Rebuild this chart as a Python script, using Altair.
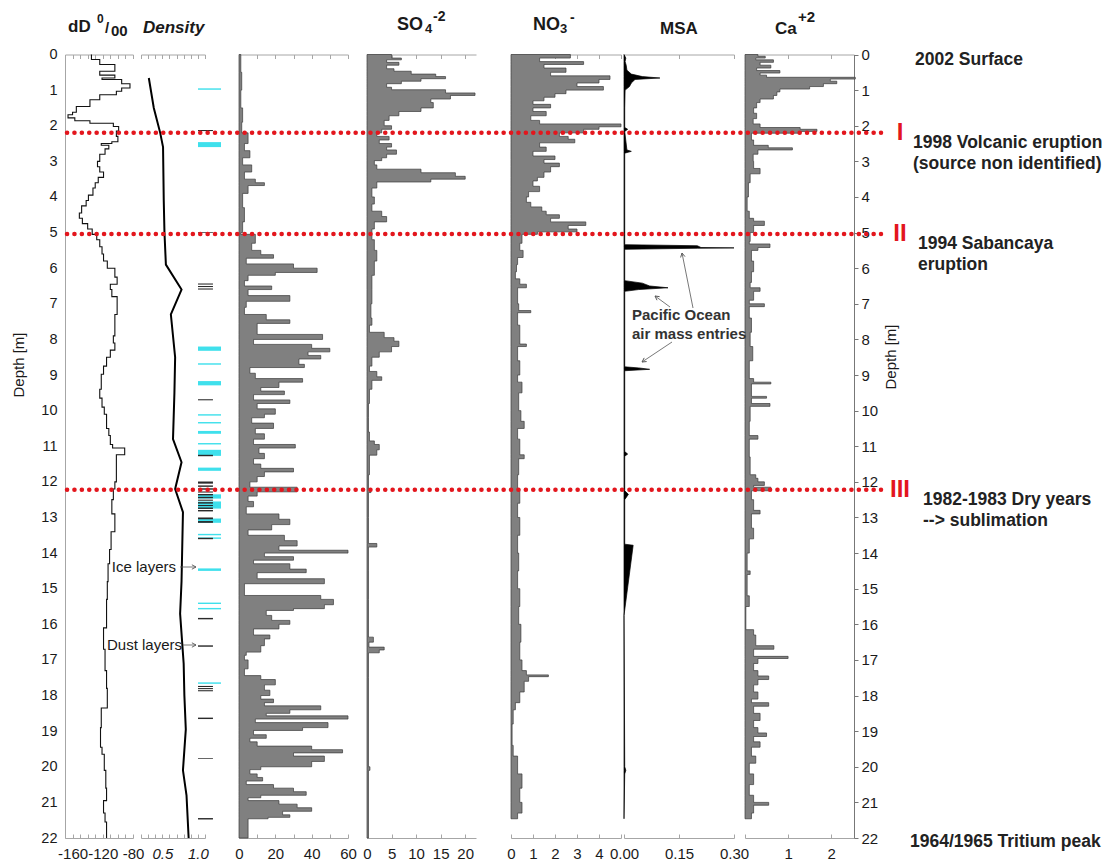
import math
import altair as alt
import pandas as pd

# ----------------------------------------------------------------- data
DEPTH_TICKS = list(range(0, 23))

# (depth m, dD permil) - step profile
DD_PROFILE = [
    (0.00, -135), (0.14, -124), (0.28, -104), (0.47, -124), (0.58, -104), (0.66, -121),
    (0.70, -95), (0.82, -84), (0.94, -95), (1.03, -102), (1.13, -124), (1.27, -137),
    (1.46, -155), (1.62, -160), (1.69, -166), (1.78, -157), (1.86, -137), (1.93, -106),
    (2.02, -99), (2.15, -102), (2.30, -100), (2.45, -108), (2.50, -122), (2.55, -112),
    (2.65, -117), (2.80, -124), (3.00, -127), (3.15, -124), (3.30, -119), (3.45, -126),
    (3.60, -130), (3.75, -133), (3.95, -139), (4.10, -142), (4.25, -148), (4.45, -151),
    (4.60, -147), (4.75, -140), (4.90, -134), (5.05, -128), (5.20, -124), (5.40, -121),
    (5.60, -119), (5.80, -114), (6.00, -104), (6.25, -101), (6.45, -110), (6.60, -108),
    (6.80, -101), (7.30, -104), (7.90, -106), (8.10, -104), (8.30, -110), (8.50, -115),
    (8.75, -119), (8.98, -122), (9.40, -124), (9.65, -121), (9.90, -118), (10.10, -115),
    (10.50, -112), (10.70, -110), (10.95, -107), (11.05, -91), (11.24, -102), (12.00, -104),
    (12.20, -106), (12.50, -108), (12.90, -104), (13.40, -109), (13.90, -111), (14.30, -113),
    (14.80, -114), (15.30, -115), (16.10, -119), (16.70, -117), (17.30, -115), (17.80, -114),
    (18.35, -122), (18.90, -123), (19.45, -121), (19.65, -118), (20.10, -116), (20.60, -115),
    (20.95, -119), (21.30, -117), (21.55, -115), (22.00, -115),
]

# (depth m, density)
DENSITY_PROFILE = [
    (0.66, 0.31), (1.5, 0.38), (2.2, 0.47), (2.6, 0.51), (4.1, 0.52), (5.0, 0.53),
    (5.9, 0.55), (6.6, 0.77), (7.3, 0.62), (8.5, 0.68), (9.5, 0.67), (10.8, 0.65),
    (11.45, 0.77), (12.2, 0.68), (12.85, 0.79), (14.8, 0.77), (15.7, 0.75), (17.1, 0.80),
    (18.0, 0.81), (18.95, 0.83), (20.1, 0.79), (20.8, 0.84), (22.0, 0.87),
]

# unlabeled 0-60 column (step profile)
P4_PROFILE = [
    (0.0, 1), (0.5, 1.5), (1.0, 1), (1.5, 2), (1.9, 1.5), (2.2, 5), (2.5, 3), (2.7, 6),
    (2.9, 2), (3.1, 7), (3.3, 3), (3.5, 9), (3.6, 14), (3.68, 5), (3.9, 2), (4.3, 3),
    (4.7, 2), (5.0, 1), (5.05, 9), (5.3, 7), (5.5, 12), (5.62, 19), (5.72, 4), (5.88, 30),
    (6.0, 43), (6.12, 20), (6.2, 5), (6.35, 3), (6.5, 18), (6.6, 5), (6.77, 28), (6.93, 4),
    (7.1, 3), (7.3, 15), (7.45, 28), (7.55, 10), (7.76, 10), (7.86, 46), (8.0, 8),
    (8.14, 40), (8.25, 50), (8.35, 38), (8.45, 45), (8.55, 33), (8.7, 36), (8.79, 6),
    (8.95, 9), (9.1, 35), (9.2, 22), (9.35, 12), (9.45, 25), (9.55, 8), (9.7, 28),
    (9.8, 10), (9.95, 20), (10.1, 14), (10.2, 7), (10.35, 19), (10.5, 9), (10.65, 14),
    (10.8, 8), (10.95, 31), (11.05, 11), (11.2, 14), (11.35, 8), (11.5, 12), (11.62, 30),
    (11.72, 14), (11.85, 10), (12.0, 6), (12.15, 32), (12.28, 10), (12.4, 5), (12.55, 8),
    (12.7, 4), (12.9, 22), (13.05, 28), (13.2, 18), (13.35, 5), (13.5, 25), (13.65, 32),
    (13.8, 22), (13.92, 60), (14.0, 14), (14.1, 30), (14.2, 8), (14.3, 28), (14.45, 37),
    (14.55, 10), (14.72, 47), (14.86, 3), (15.19, 45), (15.3, 52), (15.45, 47),
    (15.56, 30), (15.61, 15), (15.75, 18), (15.89, 28), (16.0, 22), (16.13, 8),
    (16.3, 17), (16.41, 14), (16.6, 12), (16.78, 4), (16.87, 3), (17.0, 5), (17.25, 3),
    (17.44, 12), (17.55, 20), (17.7, 14), (17.85, 17), (18.0, 12), (18.1, 19), (18.2, 14),
    (18.29, 45), (18.4, 28), (18.5, 15), (18.57, 60), (18.66, 9), (18.76, 49), (18.9, 35),
    (18.98, 8), (19.1, 15), (19.2, 6), (19.3, 10), (19.42, 40), (19.52, 57), (19.61, 30),
    (19.7, 47), (19.85, 40), (20.0, 12), (20.08, 6), (20.2, 10), (20.3, 13), (20.4, 4),
    (20.5, 19), (20.6, 30), (20.7, 37), (20.8, 12), (20.87, 5), (20.95, 22), (21.05, 32),
    (21.15, 40), (21.25, 24), (21.35, 28), (21.42, 16), (21.46, 5), (22.0, 0),
]

SO4_PROFILE = [
    (0.0, 5), (0.1, 7), (0.15, 4), (0.22, 6.5), (0.3, 4), (0.4, 5.5), (0.47, 9), (0.55, 14),
    (0.62, 16), (0.68, 11), (0.75, 7), (0.82, 4), (0.92, 5), (0.99, 16), (1.08, 22),
    (1.15, 17), (1.25, 13), (1.35, 13.5), (1.5, 11), (1.6, 6.5), (1.72, 4.5), (1.85, 3.5),
    (2.0, 5), (2.1, 3), (2.2, 2), (2.3, 4.5), (2.4, 2.5), (2.5, 5), (2.6, 4), (2.68, 6),
    (2.8, 4), (2.9, 3), (2.98, 1.5), (3.1, 2), (3.22, 11), (3.32, 18), (3.42, 20),
    (3.5, 13), (3.58, 2), (3.75, 1), (4.0, 1.5), (4.2, 1), (4.4, 3), (4.55, 4), (4.7, 1.5),
    (4.9, 1), (5.2, 1.5), (5.5, 2), (5.8, 1.5), (6.2, 1), (6.6, 1), (7.0, 0.8), (7.4, 1),
    (7.6, 0.5), (7.8, 3.5), (7.95, 5.5), (8.05, 6.5), (8.2, 5), (8.35, 2.5), (8.5, 1),
    (8.75, 0.5), (8.9, 2), (9.05, 3), (9.15, 1), (9.4, 0.5), (9.8, 0.3), (10.2, 0.3),
    (10.6, 0.5), (10.85, 1.5), (10.95, 2.5), (11.1, 2), (11.25, 0.5), (11.8, 0.3),
    (12.2, 0.8), (12.3, 0.3), (13.0, 0.3), (13.73, 2), (13.83, 0.3), (14.5, 0.3),
    (15.3, 0.3), (16.36, 1.3), (16.5, 0.4), (16.64, 3.5), (16.72, 2.5), (16.8, 0.3),
    (17.5, 0.3), (20.0, 0.6), (20.1, 0.3), (22.0, 0),
]

NO3_PROFILE = [
    (0.0, 2.7), (0.1, 1.3), (0.2, 3.3), (0.28, 1.5), (0.38, 2.5), (0.5, 1.8), (0.6, 4.5),
    (0.7, 4.0), (0.8, 3.0), (0.9, 4.2), (1.0, 2.5), (1.1, 2.0), (1.2, 1.5), (1.3, 1.0),
    (1.4, 1.8), (1.5, 1.0), (1.6, 1.6), (1.72, 0.9), (1.85, 1.3), (1.95, 5.0), (2.03, 4.0),
    (2.1, 3.3), (2.2, 2.2), (2.3, 2.6), (2.38, 2.9), (2.48, 1.3), (2.6, 1.6), (2.72, 1.0),
    (2.85, 2.0), (2.95, 1.5), (3.05, 2.2), (3.15, 1.8), (3.3, 1.5), (3.45, 1.2),
    (3.55, 1.0), (3.7, 1.3), (3.85, 0.8), (4.0, 0.7), (4.15, 0.9), (4.28, 1.4), (4.4, 1.6),
    (4.5, 2.2), (4.6, 1.8), (4.7, 3.4), (4.8, 2.6), (4.9, 3.0), (4.98, 1.2), (5.05, 0.5),
    (5.3, 0.4), (5.5, 0.55), (5.7, 0.3), (5.9, 0.25), (6.1, 0.2), (6.3, 0.4), (6.45, 0.7),
    (6.55, 0.3), (7.0, 0.35), (7.19, 0.9), (7.25, 0.3), (7.6, 0.4), (8.13, 0.7), (8.2, 0.3),
    (8.6, 0.4), (9.0, 0.3), (9.2, 0.5), (9.5, 0.35), (10.0, 0.45), (10.3, 0.6), (10.5, 0.3),
    (10.8, 0.4), (11.24, 0.6), (11.35, 0.35), (11.8, 0.3), (12.2, 0.4), (12.6, 0.3),
    (13.0, 0.4), (13.5, 0.3), (14.0, 0.35), (14.5, 0.3), (15.0, 0.4), (15.5, 0.35),
    (16.0, 0.45), (16.5, 0.4), (17.0, 0.5), (17.3, 0.7), (17.42, 1.7), (17.47, 0.8),
    (17.6, 0.6), (17.9, 0.4), (18.2, 0.2), (18.4, 0.1), (18.8, 0.05), (19.4, 0.1),
    (19.7, 0.3), (20.2, 0.5), (20.6, 0.4), (21.0, 0.5), (21.3, 0.3), (21.46, 0),
]

MSA_PROFILE = [
    (0.0, 0), (0.1, 0.005), (0.2, 0.003), (0.3, 0.006), (0.44, 0.008), (0.55, 0.02),
    (0.62, 0.05), (0.66, 0.098), (0.7, 0.03), (0.8, 0.02), (0.9, 0.015), (1.0, 0.003),
    (1.5, 0.002), (2.05, 0.002), (2.1, 0.01), (2.16, 0.002), (2.68, 0.008), (2.72, 0.02),
    (2.77, 0.002), (5.34, 0.002), (5.37, 0.2), (5.42, 0.21), (5.43, 0.3), (5.44, 0.2),
    (5.47, 0.002), (6.35, 0.002),
    (6.42, 0.05), (6.5, 0.07), (6.55, 0.12), (6.6, 0.04), (6.65, 0.002), (8.77, 0.002),
    (8.8, 0.04), (8.84, 0.07), (8.88, 0.002), (11.15, 0.002), (11.22, 0.01), (11.28, 0.002),
    (12.25, 0.002), (12.35, 0.012), (12.5, 0.002), (13.75, 0.002), (13.78, 0.025),
    (15.75, 0.0), (20.0, 0.002), (20.1, 0.005), (20.2, 0.002), (21.46, 0.0),
]

CA_PROFILE = [
    (0.0, 0.3), (0.05, 0.47), (0.1, 0.25), (0.15, 0.66), (0.22, 0.35), (0.3, 0.6),
    (0.38, 0.27), (0.45, 0.81), (0.52, 0.35), (0.58, 0.5), (0.64, 2.56), (0.69, 1.98),
    (0.75, 2.13), (0.82, 1.82), (0.9, 1.5), (0.97, 0.81), (1.05, 0.74), (1.15, 0.66),
    (1.25, 0.35), (1.35, 0.27), (1.5, 0.2), (1.65, 0.27), (1.8, 0.19), (1.95, 0.35),
    (2.05, 1.28), (2.1, 1.67), (2.16, 1.3), (2.21, 0.15), (2.4, 0.2), (2.55, 0.54),
    (2.62, 1.1), (2.68, 0.3), (2.8, 0.19), (3.0, 0.2), (3.2, 0.35), (3.35, 0.12),
    (3.6, 0.08), (4.0, 0.05), (4.4, 0.1), (4.6, 0.2), (4.68, 0.45), (4.8, 0.2), (5.0, 0.12),
    (5.25, 0.1), (5.32, 0.58), (5.42, 0.3), (5.5, 0.15), (5.8, 0.2), (6.1, 0.15),
    (6.4, 0.12), (6.55, 0.35), (6.65, 0.2), (6.9, 0.1), (7.0, 0.45), (7.08, 0.1),
    (7.4, 0.15), (7.8, 0.12), (8.2, 0.18), (8.6, 0.1), (9.1, 0.2), (9.2, 0.6), (9.25, 0.15),
    (9.6, 0.5), (9.65, 0.15), (9.8, 0.58), (9.88, 0.12), (10.3, 0.1), (10.7, 0.3),
    (10.8, 0.1), (11.3, 0.12), (11.8, 0.25), (11.9, 0.3), (12.0, 0.45), (12.1, 0.2),
    (12.15, 0.6), (12.25, 0.15), (12.5, 0.2), (12.8, 0.35), (12.9, 0.15), (13.3, 0.2),
    (13.6, 0.1), (14.0, 0.05), (14.5, 0.12), (14.6, 0.05), (15.2, 0.1), (15.5, 0.02),
    (16.15, 0.2), (16.3, 0.25), (16.6, 0.67), (16.7, 0.2), (16.9, 1.0), (16.96, 0.3),
    (17.1, 0.2), (17.3, 0.3), (17.45, 0.55), (17.55, 0.3), (17.7, 0.2), (17.9, 0.3),
    (18.1, 0.15), (18.2, 0.55), (18.3, 0.2), (18.5, 0.35), (18.7, 0.2), (18.9, 0.3),
    (19.05, 0.5), (19.15, 0.2), (19.3, 0.35), (19.45, 0.15), (19.7, 0.25), (19.9, 0.1),
    (20.2, 0.2), (20.5, 0.1), (20.8, 0.2), (21.0, 0.55), (21.08, 0.2), (21.3, 0.15),
    (21.46, 0),
]

# (top depth, bottom depth)
ICE_LAYERS = [
    (0.95, 0.99), (2.46, 2.6), (8.2, 8.32), (8.67, 8.71), (9.17, 9.29), (10.1, 10.14),
    (10.32, 10.36), (10.57, 10.65), (10.91, 10.95), (11.1, 11.27), (11.6, 11.69),
    (12.35, 12.47), (12.55, 12.75), (13.03, 13.15), (13.46, 13.5), (13.56, 13.6),
    (14.43, 14.5), (15.39, 15.43), (15.54, 15.58), (17.63, 17.67),
]
DUST_LAYERS = [
    (2.12, 2.15), (4.99, 5.01), (6.43, 6.46), (6.5, 6.53), (6.57, 6.6), (9.68, 9.71),
    (11.24, 11.28), (11.99, 12.05), (12.1, 12.14), (12.18, 12.22), (12.27, 12.3),
    (12.34, 12.38), (12.42, 12.46), (12.5, 12.53), (12.57, 12.61), (12.65, 12.68),
    (12.72, 12.76), (12.79, 12.83), (13.0, 13.05), (13.1, 13.15), (13.57, 13.61),
    (15.82, 15.86), (16.59, 16.63), (17.73, 17.76), (17.79, 17.82), (17.85, 17.88),
    (18.62, 18.66), (19.76, 19.78), (21.44, 21.48),
]

EVENT_DEPTH = [2.2, 5.04, 12.22]
EVENT_NUMERAL = ["I", "II", "III"]
EVENT_LABEL = [
    "1998 Volcanic eruption\n(source non identified)",
    "1994 Sabancaya\neruption",
    "1982-1983 Dry years\n--> sublimation",
]
SURFACE_LABEL = "2002 Surface"
TRITIUM_LABEL = "1964/1965 Tritium peak"

# ------------------------------------------------------------- layout
FONT = "Liberation Sans"
INK = "#1a1a1a"
AXIS_GRAY = "#a6a6a6"
RED = "#e3161d"
FILL_GRAY = "#808080"
W, H = 1096, 830
Y_TOP = 46.5

Y_SCALE = alt.Scale(domain=[0, 22], range=[Y_TOP, H], nice=False, zero=False)

PANELS = {
    "dD": dict(domain=[-170, -80], rng=[57, 125], labels=[-160, -120, -80],
               ticks=list(range(-170, -79, 10)), expr="'' + datum.value"),
    "dens": dict(domain=[0.2, 1.1], rng=[133, 197], labels=[0.5, 1.0],
                 ticks=[round(0.2 + 0.1 * i, 1) for i in range(10)], fmt=".1f", italic=True),
    "p4": dict(domain=[0, 60], rng=[231, 340], labels=[0, 20, 40, 60],
               ticks=list(range(0, 61, 10))),
    "so4": dict(domain=[0, 22.2], rng=[359, 468], labels=[0, 5, 10, 15, 20],
                ticks=[0, 5, 10, 15, 20]),
    "no3": dict(domain=[0, 5], rng=[503, 613], labels=[0, 1, 2, 3, 4],
                ticks=[0, 1, 2, 3, 4, 5]),
    "msa": dict(domain=[0, 0.3], rng=[616, 726], labels=[0, 0.15, 0.3],
                ticks=[0, 0.15, 0.3], fmt=".2f"),
    "ca": dict(domain=[0, 2.53], rng=[737, 846], labels=[1, 2], ticks=[0, 1, 2]),
}
LAYER_SCALE = alt.Scale(domain=[0, 1], range=[190, 213], nice=False, zero=False)


def xscale(key):
    p = PANELS[key]
    return alt.Scale(domain=p["domain"], range=p["rng"], nice=False, zero=False)


def bottom_axis(key):
    p = PANELS[key]
    kw = dict(orient="bottom", values=p["labels"], title=None, grid=False, ticks=False,
              domain=True, domainColor=AXIS_GRAY, labelFont=FONT, labelFontSize=15,
              labelColor=INK, labelPadding=8, labelFlush=False, labelOverlap=False,
              labelBound=False)
    if "fmt" in p:
        kw["format"] = p["fmt"]
    if "expr" in p:
        kw["labelExpr"] = p["expr"]
    if p.get("italic"):
        kw["labelFontStyle"] = "italic"
    return alt.Axis(**kw)


def frame_layers(key):
    p = PANELS[key]
    dummy = pd.DataFrame({"v": [p["domain"][0]]})
    top = alt.Chart(dummy).mark_point(opacity=0).encode(
        x=alt.X("v:Q", scale=xscale(key), axis=alt.Axis(
            orient="bottom", offset=-(H - Y_TOP), values=p["ticks"], labels=False,
            ticks=True, tickSize=4, tickColor=AXIS_GRAY, domainColor=AXIS_GRAY,
            title=None, grid=False)))
    bot = alt.Chart(dummy).mark_point(opacity=0).encode(
        x=alt.X("v:Q", scale=xscale(key), axis=alt.Axis(
            orient="top", offset=-H, values=p["ticks"], labels=False, ticks=True,
            tickSize=4, tickColor=AXIS_GRAY, domain=False, title=None, grid=False)))
    return [top, bot]


def profile_df(profile):
    return pd.DataFrame(profile, columns=["d", "v"])


def area_layer(key, profile, fill, stroke, interp, yaxis=None):
    return alt.Chart(profile_df(profile)).mark_area(
        orient="horizontal", interpolate=interp, fill=fill, stroke=stroke,
        strokeWidth=0.7, fillOpacity=1).encode(
        x=alt.X("v:Q", scale=xscale(key), axis=bottom_axis(key), stack=None),
        y=alt.Y("d:Q", scale=Y_SCALE, axis=yaxis))


def text_layer(txt, x, y, size, weight="bold", style="normal", align="left",
               color=INK, angle=0):
    return alt.Chart(pd.DataFrame({"t": [txt]})).mark_text(
        font=FONT, fontSize=size, fontWeight=weight, fontStyle=style, align=align,
        baseline="middle", color=color, angle=angle).encode(
        x=alt.value(x), y=alt.value(y), text="t:N")


left_axis = alt.Axis(orient="left", offset=-57, values=DEPTH_TICKS, ticks=False,
                     domainColor=AXIS_GRAY, labelFont=FONT, labelFontSize=14.5,
                     labelColor=INK, labelPadding=8, title=None, grid=False,
                     labelOverlap=False, labelFlush=False, labelBound=False)
right_axis = alt.Axis(orient="right", offset=-(W - 846), values=DEPTH_TICKS, ticks=True,
                      tickSize=4, tickColor="#777777", domainColor="#777777",
                      labelFont=FONT, labelFontSize=15, labelColor=INK, labelPadding=3,
                      title=None, grid=False, labelOverlap=False, labelFlush=False,
                      labelBound=False)

layers = []

# dD
layers.append(alt.Chart(profile_df(DD_PROFILE)).mark_line(
    interpolate="step-before", color="#111111", strokeWidth=1.1).encode(
    x=alt.X("v:Q", scale=xscale("dD"), axis=bottom_axis("dD")),
    y=alt.Y("d:Q", scale=Y_SCALE, axis=left_axis),
    order=alt.Order("d:Q")))
layers += frame_layers("dD")

# density
layers.append(alt.Chart(profile_df(DENSITY_PROFILE)).mark_line(
    color="#000000", strokeWidth=2).encode(
    x=alt.X("v:Q", scale=xscale("dens"), axis=bottom_axis("dens")),
    y=alt.Y("d:Q", scale=Y_SCALE, axis=None),
    order=alt.Order("d:Q")))
layers += frame_layers("dens")

# ice / dust layers
ice_df = pd.DataFrame(ICE_LAYERS, columns=["top", "bot"])
dust_df = pd.DataFrame(DUST_LAYERS, columns=["top", "bot"])
layers.append(alt.Chart(ice_df).mark_rect(color="#3fe0ec").encode(
    x=alt.X(datum=0, type="quantitative", scale=LAYER_SCALE, axis=None),
    x2=alt.X2(datum=1),
    y=alt.Y("top:Q", scale=Y_SCALE, axis=None), y2="bot:Q"))
layers.append(alt.Chart(dust_df).mark_rect(color="#2a2a2a").encode(
    x=alt.X(datum=0, type="quantitative", scale=LAYER_SCALE, axis=None),
    x2=alt.X2(datum=0.65),
    y=alt.Y("top:Q", scale=Y_SCALE, axis=None), y2="bot:Q"))

# chemistry columns
layers.append(area_layer("p4", P4_PROFILE, FILL_GRAY, "#3a3a3a", "step-before"))
layers += frame_layers("p4")
layers.append(area_layer("so4", SO4_PROFILE, FILL_GRAY, "#3a3a3a", "step-before"))
layers += frame_layers("so4")
layers.append(area_layer("no3", NO3_PROFILE, FILL_GRAY, "#3a3a3a", "step-before"))
layers += frame_layers("no3")
layers.append(area_layer("msa", MSA_PROFILE, "#000000", "#000000", "linear"))
layers += frame_layers("msa")
layers.append(area_layer("ca", CA_PROFILE, FILL_GRAY, "#3a3a3a", "step-before",
                         yaxis=right_axis))
layers += frame_layers("ca")

# red dotted event lines + numerals + labels
ev_df = pd.DataFrame({"d": EVENT_DEPTH, "num": EVENT_NUMERAL, "txt": EVENT_LABEL})
layers.append(alt.Chart(ev_df).mark_rule(
    color=RED, strokeWidth=4.5, strokeDash=[0.1, 7.3], strokeCap="round").encode(
    y=alt.Y("d:Q", scale=Y_SCALE, axis=None), x=alt.value(59), x2=alt.value(873)))
layers.append(alt.Chart(ev_df).mark_text(
    font=FONT, fontSize=24, fontWeight="bold", color=RED, align="center",
    baseline="middle").encode(
    y=alt.Y("d:Q", scale=Y_SCALE, axis=None), x=alt.value(892), text="num:N"))
EVENT_TEXT_X = [905, 910, 915]
for i in range(len(EVENT_DEPTH)):
    layers.append(alt.Chart(ev_df.iloc[[i]]).mark_text(
        font=FONT, fontSize=17.5, fontWeight="bold", color="#222222", align="left",
        baseline="middle", lineBreak="\n", lineHeight=21, dy=10.5).encode(
        y=alt.Y("d:Q", scale=Y_SCALE, axis=None), x=alt.value(EVENT_TEXT_X[i]),
        text="txt:N"))

end_df = pd.DataFrame({"d": [0.0], "t": [SURFACE_LABEL]})
layers.append(alt.Chart(end_df).mark_text(
    font=FONT, fontSize=17.5, fontWeight="bold", color="#222222", align="left",
    baseline="middle", dy=5).encode(
    y=alt.Y("d:Q", scale=Y_SCALE, axis=None), x=alt.value(907), text="t:N"))
trit_df = pd.DataFrame({"d": [22.0], "t": [TRITIUM_LABEL]})
layers.append(alt.Chart(trit_df).mark_text(
    font=FONT, fontSize=17.5, fontWeight="bold", color="#222222", align="left",
    baseline="middle", dy=4).encode(
    y=alt.Y("d:Q", scale=Y_SCALE, axis=None), x=alt.value(902), text="t:N"))

# column titles
layers += [
    text_layer("dD", 60, 19, 17),
    text_layer("0", 89, 11, 12),
    text_layer("/", 97, 20, 15),
    text_layer("00", 103, 23, 15),
    text_layer("Density", 135, 20, 17, style="italic"),
    text_layer("SO", 389, 17, 18),
    text_layer("4", 417, 21, 13),
    text_layer("-2", 425, 9, 14),
    text_layer("NO", 525, 17, 18),
    text_layer("3", 552, 21, 13),
    text_layer("-", 562, 10, 14),
    text_layer("MSA", 652, 21, 17),
    text_layer("Ca", 767, 21, 17),
    text_layer("+2", 790, 9, 15),
    text_layer("Depth [m]", 11, 357, 15, weight="normal", align="center", angle=270),
    text_layer("Depth [m]", 883, 349, 15, weight="normal", align="center", angle=270),
    text_layer("Ice layers", 168, 559, 15, weight="normal", align="right"),
    text_layer("Dust layers", 174, 637, 15, weight="normal", align="right"),
    text_layer("Pacific Ocean", 624, 307, 15, color="#333333"),
    text_layer("air mass entries", 624, 326, 15, color="#333333"),
]

# annotation arrows (tail x, tail y, head x, head y) in pixels
ARROWS = [
    (172, 559, 188, 559), (175, 637, 188, 637), (685, 300, 674, 245),
    (662, 299, 647, 288), (664, 334, 634, 354),
]
CHEVRON = "M-0.7,1.3L0,0L0.7,1.3"
one = pd.DataFrame({"k": [0]})
for (x1, y1, x2, y2) in ARROWS:
    ang = math.degrees(math.atan2(x2 - x1, -(y2 - y1))) % 360
    layers.append(alt.Chart(one).mark_rule(color="#555555", strokeWidth=0.8).encode(
        x=alt.value(x1), y=alt.value(y1), x2=alt.value(x2), y2=alt.value(y2)))
    layers.append(alt.Chart(one).mark_point(
        shape=CHEVRON, size=40, filled=False, stroke="#555555", strokeWidth=0.9,
        angle=ang, opacity=1).encode(x=alt.value(x2), y=alt.value(y2)))

chart = alt.layer(*layers).resolve_scale(x="independent").resolve_axis(
    x="independent", y="independent").properties(
    width=W, height=H, autosize=alt.AutoSizeParams(type="none"),
    padding={"left": 0, "top": 0, "right": 0, "bottom": 25}).configure_view(
    stroke=None).configure_axis(grid=False)

chart.save("out.html", embed_options={"renderer": "svg", "actions": False})
